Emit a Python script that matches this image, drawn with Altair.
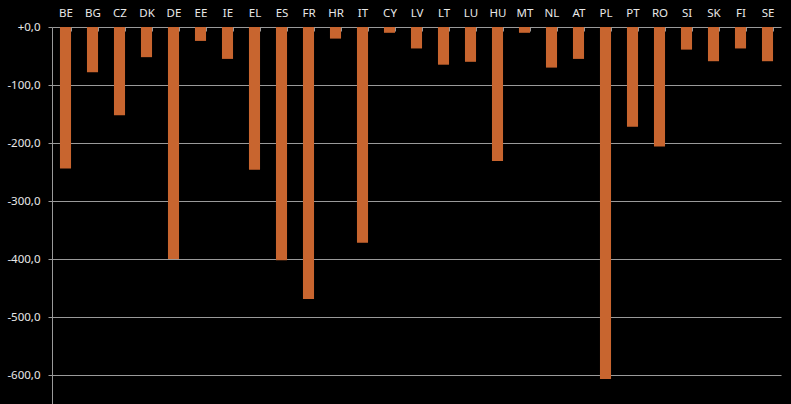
import altair as alt
import pandas as pd
import jinja2

# ---- data ----
countries = ["BE", "BG", "CZ", "DK", "DE", "EE", "IE", "EL", "ES", "FR", "HR", "IT", "CY", "LV",
             "LT", "LU", "HU", "MT", "NL", "AT", "PL", "PT", "RO", "SI", "SK", "FI", "SE"]
values = [-244, -78, -152, -52, -400, -24, -55, -246, -402, -469, -20, -372, -10, -37,
          -65, -60, -231, -10, -70, -55, -607, -172, -206, -39, -59, -37, -59]
y_ticks = [0, -100, -200, -300, -400, -500, -600]

df = pd.DataFrame({"country": countries, "value": values})

GRID = "#9a9a9a"
TEXT = "#e8e8e8"
FONT = "Noto Sans"

chart = alt.Chart(df).mark_bar(color="#C8652F").encode(
    x=alt.X(
        "country:N", sort=countries, title=None,
        scale=alt.Scale(paddingInner=0.59, paddingOuter=0.295),
        axis=alt.Axis(orient="top", domain=False, grid=False, ticks=True, tickBand="extent",
                      tickSize=4, offset=-4, tickColor=GRID, labelAngle=0,
                      labelColor=TEXT, labelFont=FONT, labelFontSize=11.5, labelPadding=9),
    ),
    y=alt.Y(
        "value:Q", title=None,
        scale=alt.Scale(domain=[-650, 0], nice=False, zero=False),
        axis=alt.Axis(values=y_ticks, grid=True, gridColor=GRID, gridOpacity=1, gridWidth=1,
                      domainColor=GRID, tickColor=GRID, tickSize=4, labelPadding=8,
                      labelColor=TEXT, labelFont=FONT, labelFontSize=11.5,
                      labelExpr="datum.value == 0 ? '+0,0' : '-' + abs(datum.value) + ',0'"),
    ),
).properties(
    width=729, height=377,
    autosize=alt.AutoSizeParams(type="none"),
    padding={"left": 52, "top": 27, "right": 10, "bottom": 0},
    background="#000000",
).configure_view(stroke=None)

TEMPLATE = jinja2.Template("""<!DOCTYPE html>
<html>
<head>
  <style>
    html, body { margin: 0; padding: 0; background: #000; overflow: hidden; }
    #{{ output_div }}.vega-embed { width: 100%; display: flex; }
  </style>
  <script type="text/javascript" src="{{ base_url }}/vega@{{ vega_version }}"></script>
  <script type="text/javascript" src="{{ base_url }}/vega-lite@{{ vegalite_version }}"></script>
  <script type="text/javascript" src="{{ base_url }}/vega-embed@{{ vegaembed_version }}"></script>
</head>
<body>
  <div id="{{ output_div }}"></div>
  <script>
    var spec = {{ spec }};
    var embedOpt = {{ embed_options }};
    vegaEmbed("#{{ output_div }}", spec, embedOpt).catch(function (err) {
      document.getElementById("{{ output_div }}").innerHTML = '<pre style="color:red">' + err + '</pre>';
    });
  </script>
</body>
</html>""")

try:
    chart.save("out.html", embed_options={"renderer": "svg", "actions": False}, template=TEMPLATE)
except Exception:
    chart.save("out.html", embed_options={"renderer": "svg", "actions": False})
